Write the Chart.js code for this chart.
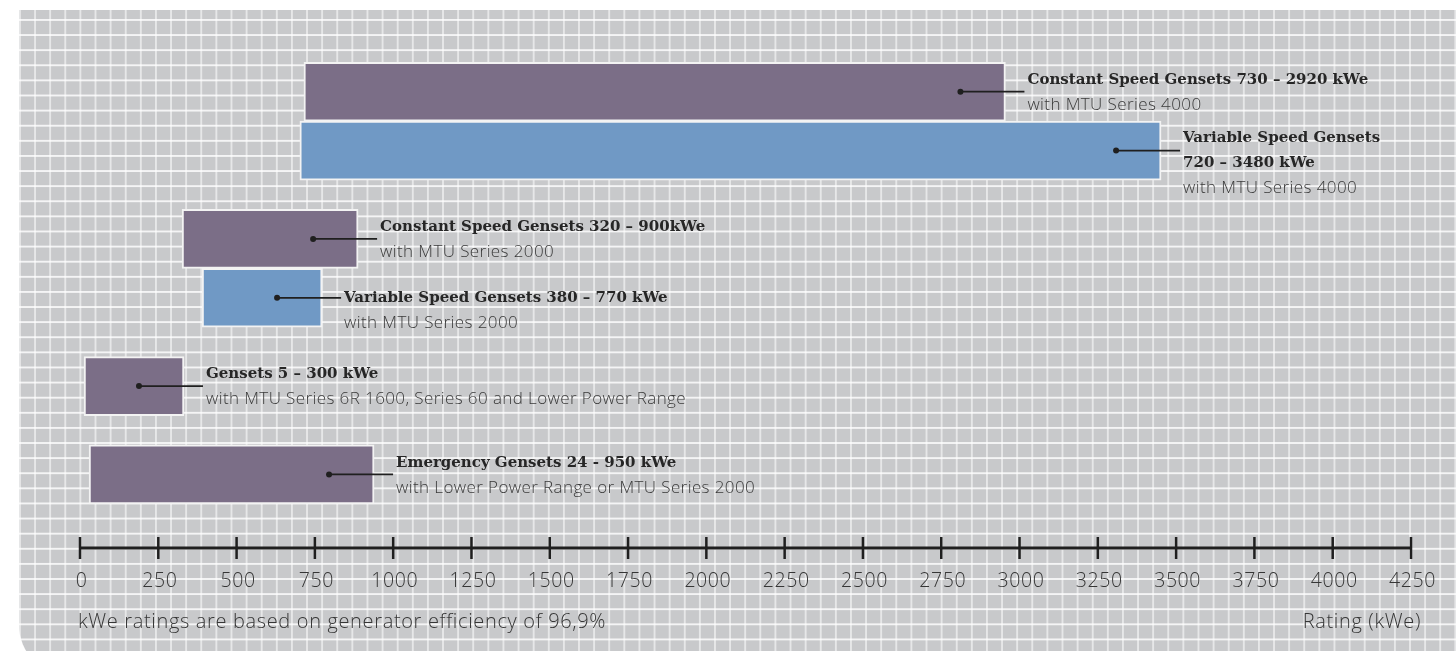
<!DOCTYPE html>
<html>
<head>
<meta charset="utf-8">
<script src="https://cdn.jsdelivr.net/npm/chart.js@4/dist/chart.umd.min.js"></script>
<style>
  html, body { margin: 0; padding: 0; background: #ffffff; overflow: hidden; }
  #panel {
    position: absolute; left: 19px; top: 10px; width: 1437px; height: 665px;
    border-bottom-left-radius: 50px;
    background-color: #c8c9cb;
    background-image:
      linear-gradient(to right, rgba(255,255,255,0.55) 1.6px, transparent 1.6px),
      linear-gradient(to bottom, rgba(255,255,255,0.8) 1.8px, transparent 1.8px);
    background-size: 15.12px 15.12px;
    background-position: 0px 9px;
  }
  #chart { position: absolute; left: 0; top: 0; }
</style>
</head>
<body>
<div id="panel"></div>
<canvas id="chart" width="1456" height="651"></canvas>
<script>
// y slots: blank strings are spacer rows between the groups
const categories = [
  ['Constant Speed Gensets 730 – 2920 kWe'], '',
  ['Variable Speed Gensets', '720 – 3480 kWe'], '', '',
  ['Constant Speed Gensets 320 – 900kWe'], '',
  ['Variable Speed Gensets 380 – 770 kWe'], '', '',
  ['Gensets 5 – 300 kWe'], '', '',
  ['Emergency Gensets 24 - 950 kWe'], '', ''
];
const notes = [
  'with MTU Series 4000', '',
  'with MTU Series 4000', '', '',
  'with MTU Series 2000', '',
  'with MTU Series 2000', '', '',
  'with MTU Series 6R 1600, Series 60 and Lower Power Range', '', '',
  'with Lower Power Range or MTU Series 2000', '', ''
];
// kWe ranges as drawn
const constantRanges = [
  [715, 2955], null,
  null, null, null,
  [326, 888], null,
  null, null, null,
  [13, 332], null, null,
  [29, 939], null, null
];
const variableRanges = [
  null, null,
  [702, 3452], null, null,
  null, null,
  [390, 773], null, null,
  null, null, null,
  null, null, null
];
const tickValues = [0, 250, 500, 750, 1000, 1250, 1500, 1750, 2000, 2250, 2500, 2750, 3000, 3250, 3500, 3750, 4000, 4250];
const footnote = 'kWe ratings are based on generator efficiency of 96,9%';
const axisTitle = 'Rating (kWe)';

const INK = '#1f1f1f';
const SANS = '"Open Sans", Roboto, sans-serif';

const barLabels = {
  id: 'barLabels',
  afterDatasetsDraw(chart) {
    const ctx = chart.ctx;
    chart.data.datasets.forEach((ds, di) => {
      const meta = chart.getDatasetMeta(di);
      meta.data.forEach((bar, i) => {
        if (!ds.data[i]) return;
        const end = Math.max(bar.x, bar.base);
        const y = bar.y;
        const title = categories[i];
        const tx = end + 22;
        ctx.save();
        ctx.strokeStyle = INK;
        ctx.fillStyle = INK;
        ctx.lineWidth = 1.8;
        ctx.beginPath();
        ctx.moveTo(end - 45, y);
        ctx.lineTo(tx - 3, y);
        ctx.stroke();
        ctx.beginPath();
        ctx.arc(end - 45, y, 3, 0, Math.PI * 2);
        ctx.fill();
        const lh = 25;
        let first;
        if (ds.labelAlign === 'title') {
          first = y - (title.length - 1) * lh / 2;
        } else {
          first = y - title.length * lh / 2 + 1;
        }
        ctx.textBaseline = 'middle';
        ctx.textAlign = 'left';
        ctx.font = 'bold 15px "DejaVu Serif"';
        ctx.fillStyle = '#262626';
        title.forEach((t, k) => ctx.fillText(t, tx, first + k * lh));
        ctx.font = '300 17px ' + SANS;
        ctx.letterSpacing = '0.4px';
        ctx.fillStyle = '#3a3a3a';
        ctx.fillText(notes[i], tx, first + title.length * lh);
        ctx.restore();
      });
    });
  }
};

const ratingAxis = {
  id: 'ratingAxis',
  afterDraw(chart) {
    const ctx = chart.ctx;
    const x = chart.scales.x;
    const y = chart.chartArea.bottom;
    ctx.save();
    ctx.strokeStyle = INK;
    ctx.lineWidth = 3;
    ctx.beginPath();
    ctx.moveTo(x.getPixelForValue(tickValues[0]), y);
    ctx.lineTo(x.getPixelForValue(tickValues[tickValues.length - 1]), y);
    ctx.stroke();
    ctx.lineWidth = 2.5;
    ctx.font = '300 19.5px ' + SANS;
    ctx.letterSpacing = '0.6px';
    ctx.fillStyle = '#363636';
    ctx.textAlign = 'center';
    ctx.textBaseline = 'middle';
    tickValues.forEach(v => {
      const px = x.getPixelForValue(v);
      ctx.beginPath();
      ctx.moveTo(px, y - 11);
      ctx.lineTo(px, y + 11);
      ctx.stroke();
      ctx.fillText(String(v), px + 1.5, y + 33);
    });
    ctx.font = '300 20px ' + SANS;
    ctx.letterSpacing = '0.65px';
    ctx.textAlign = 'left';
    ctx.fillText(footnote, 78, y + 74);
    ctx.textAlign = 'right';
    ctx.fillText(axisTitle, 1421, y + 74);
    ctx.restore();
  }
};

new Chart(document.getElementById('chart'), {
  type: 'bar',
  data: {
    labels: categories,
    datasets: [
      {
        label: 'Constant speed / other gensets',
        data: constantRanges,
        backgroundColor: '#7b6e87',
        borderColor: '#f3f3f3',
        borderWidth: 2,
        borderSkipped: false,
        barThickness: 59,
        grouped: false,
        clip: false,
        labelAlign: 'block'
      },
      {
        label: 'Variable speed gensets',
        data: variableRanges,
        backgroundColor: '#7099c5',
        borderColor: '#f3f3f3',
        borderWidth: 2,
        borderSkipped: false,
        barThickness: 59,
        grouped: false,
        clip: false,
        labelAlign: 'title'
      }
    ]
  },
  options: {
    indexAxis: 'y',
    responsive: false,
    animation: false,
    layout: { padding: { left: 80, right: 45, top: 77, bottom: 103 } },
    scales: {
      x: { type: 'linear', min: 0, max: 4250, display: false },
      y: { type: 'category', offset: true, display: false }
    },
    plugins: { legend: { display: false }, tooltip: { enabled: false } }
  },
  plugins: [barLabels, ratingAxis]
});
</script>
</body>
</html>
